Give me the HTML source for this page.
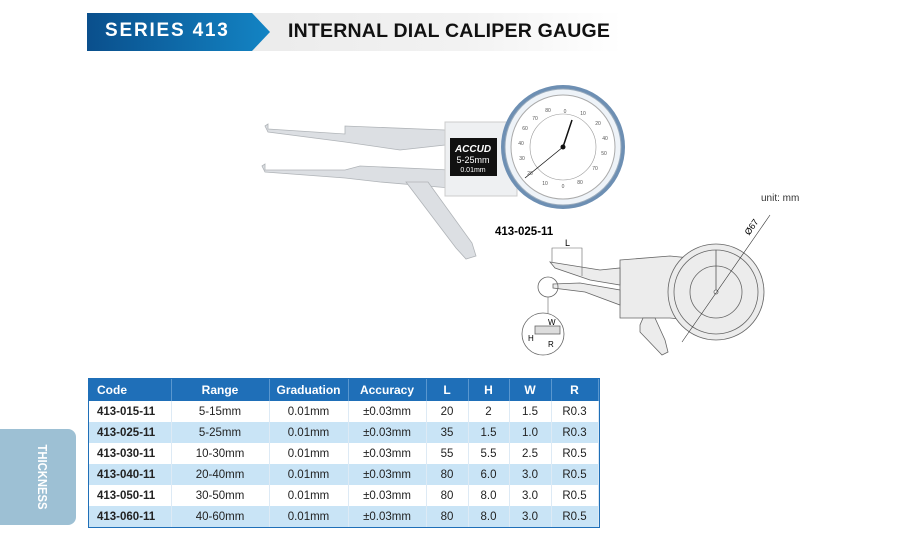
<!DOCTYPE html>
<html><head><meta charset="utf-8"><style>
body{margin:0;width:910px;height:542px;background:#fff;position:relative;overflow:hidden;font-family:"Liberation Sans",sans-serif}
.abs{position:absolute}
table{border-collapse:collapse;font-size:11.5px;color:#222}
td,th{height:21px;padding:0;text-align:center}
th{background:#1f6fb8;color:#fff;font-weight:bold;font-size:12px;height:22px;border-right:1px solid #5a97cf}
td{border-right:1px solid #ddeaf5}
tr:nth-child(odd) td{background:#c9e4f6}
td:first-child{font-weight:bold;text-align:left;padding-left:8px}
th:first-child{text-align:left;padding-left:8px}
</style></head><body>
<!-- header -->
<div class="abs" style="left:87px;top:13px;width:535px;height:38px;background:linear-gradient(90deg,#e6e6e6,#f2f2f2 70%,#fff)"></div>
<div class="abs" style="left:87px;top:13px;width:183px;height:38px;background:linear-gradient(90deg,#0a4f8c,#1384c4);clip-path:polygon(0 0,165px 0,183px 19px,165px 38px,0 38px)"></div>
<div class="abs" style="left:105px;top:20px;color:#fff;font-weight:bold;font-size:19px;letter-spacing:1.8px">SERIES 413</div>
<div class="abs" style="left:288px;top:20px;color:#111;font-weight:bold;font-size:19.5px;letter-spacing:0.2px">INTERNAL DIAL CALIPER GAUGE</div>

<!-- photo -->
<svg class="abs" style="left:0;top:0" width="910" height="542">
<g fill="#dcdfe3" stroke="#b0b4b8" stroke-width="0.8">
<polygon points="265,126 268,124 268,129 345,134 345,126 445,130 445,145 400,150 345,142 268,132"/>
<polygon points="262,166 265,164 265,170 345,170 360,166 450,170 450,188 380,182 345,178 265,172"/>
<polygon points="406,182 428,182 472,243 476,256 466,259 456,248"/>
</g>
<rect x="445" y="122" width="72" height="74" fill="#eef0f2" stroke="#ccc"/>
<rect x="450" y="138" width="47" height="38" fill="#111"/>
<text x="473" y="152" fill="#fff" font-size="10" font-weight="bold" text-anchor="middle" font-style="italic">ACCUD</text>
<text x="473" y="163" fill="#fff" font-size="9" text-anchor="middle">5-25mm</text>
<text x="473" y="172" fill="#fff" font-size="7" text-anchor="middle">0.01mm</text>
<circle cx="563" cy="147" r="62" fill="#6d8fb3"/>
<circle cx="563" cy="147" r="58" fill="#eef3f8" stroke="#9ab" />
<circle cx="563" cy="147" r="52" fill="#fff" stroke="#aaa"/>
<circle cx="563" cy="147" r="33" fill="none" stroke="#999" stroke-width="0.6"/>
<line x1="563" y1="147" x2="572" y2="120" stroke="#111" stroke-width="1.5"/>
<line x1="563" y1="147" x2="525" y2="178" stroke="#111" stroke-width="0.8"/>
<circle cx="563" cy="147" r="2.5" fill="#111"/>
<g font-size="5" fill="#555" text-anchor="middle">
<text x="565" y="113">0</text><text x="583" y="115">10</text><text x="598" y="125">20</text><text x="605" y="140">40</text><text x="604" y="155">50</text><text x="595" y="170">70</text><text x="580" y="184">80</text><text x="563" y="188">0</text><text x="545" y="185">10</text><text x="530" y="175">20</text><text x="522" y="160">30</text><text x="521" y="145">40</text><text x="525" y="130">60</text><text x="535" y="120">70</text><text x="548" y="112">80</text>
</g>
</svg>
<div class="abs" style="left:495px;top:226px;font-weight:bold;font-size:11.5px">413-025-11</div>
<div class="abs" style="left:761px;top:193px;font-size:10px;color:#333">unit: mm</div>

<!-- line diagram -->
<svg class="abs" style="left:0;top:0" width="910" height="542" fill="#ececec" stroke="#666" stroke-width="0.8">
<polygon points="620,260 670,256 690,258 690,320 670,318 620,318"/>
<polygon points="550,262 600,270 620,268 620,285 590,280 555,268"/>
<polygon points="553,284 580,283 620,290 620,305 585,292 553,288"/>
<polygon points="643,318 655,318 665,340 668,352 662,355 640,332 640,325"/>
<circle cx="716" cy="292" r="48"/>
<circle cx="716" cy="292" r="42" fill="none"/>
<circle cx="716" cy="292" r="26" fill="none"/>
<line x1="716" y1="292" x2="716" y2="250" stroke="#555"/>
<circle cx="716" cy="292" r="2" fill="#fff"/>
<line x1="682" y1="342" x2="770" y2="215" stroke="#333" stroke-width="0.6"/>
<polyline points="552,262 552,248 582,248 582,276" fill="none" stroke-width="0.6"/>
<circle cx="548" cy="287" r="10" fill="none"/>
<line x1="548" y1="297" x2="548" y2="313" stroke-width="0.6"/>
<circle cx="543" cy="334" r="21" fill="#fff"/>
<rect x="535" y="326" width="25" height="8" fill="#ddd"/>
</svg>
<div class="abs" style="left:565px;top:238px;font-size:9px">L</div>
<div class="abs" style="left:743px;top:222px;font-size:9px;transform:rotate(-55deg)">Ø67</div>
<div class="abs" style="left:548px;top:318px;font-size:8px">W</div>
<div class="abs" style="left:528px;top:334px;font-size:8px">H</div>
<div class="abs" style="left:548px;top:340px;font-size:8px">R</div>

<!-- table -->
<div class="abs" style="left:88px;top:378px;border:1px solid #1f6fb8;">
<table>
<colgroup><col style="width:82px"><col style="width:98px"><col style="width:79px"><col style="width:78px"><col style="width:42px"><col style="width:41px"><col style="width:42px"><col style="width:47px"></colgroup>
<tr><th>Code</th><th>Range</th><th>Graduation</th><th>Accuracy</th><th>L</th><th>H</th><th>W</th><th>R</th></tr>
<tr><td>413-015-11</td><td>5-15mm</td><td>0.01mm</td><td>±0.03mm</td><td>20</td><td>2</td><td>1.5</td><td>R0.3</td></tr>
<tr><td>413-025-11</td><td>5-25mm</td><td>0.01mm</td><td>±0.03mm</td><td>35</td><td>1.5</td><td>1.0</td><td>R0.3</td></tr>
<tr><td>413-030-11</td><td>10-30mm</td><td>0.01mm</td><td>±0.03mm</td><td>55</td><td>5.5</td><td>2.5</td><td>R0.5</td></tr>
<tr><td>413-040-11</td><td>20-40mm</td><td>0.01mm</td><td>±0.03mm</td><td>80</td><td>6.0</td><td>3.0</td><td>R0.5</td></tr>
<tr><td>413-050-11</td><td>30-50mm</td><td>0.01mm</td><td>±0.03mm</td><td>80</td><td>8.0</td><td>3.0</td><td>R0.5</td></tr>
<tr><td>413-060-11</td><td>40-60mm</td><td>0.01mm</td><td>±0.03mm</td><td>80</td><td>8.0</td><td>3.0</td><td>R0.5</td></tr>
</table></div>

<!-- side tab -->
<div class="abs" style="left:-10px;top:429px;width:86px;height:96px;background:#9dc0d4;border-radius:8px"></div>
<div class="abs" style="left:7px;top:469px;width:70px;text-align:center;color:#fff;font-weight:bold;font-size:12.5px;transform:rotate(90deg) scaleX(0.9);transform-origin:center">THICKNESS</div>
</body></html>
